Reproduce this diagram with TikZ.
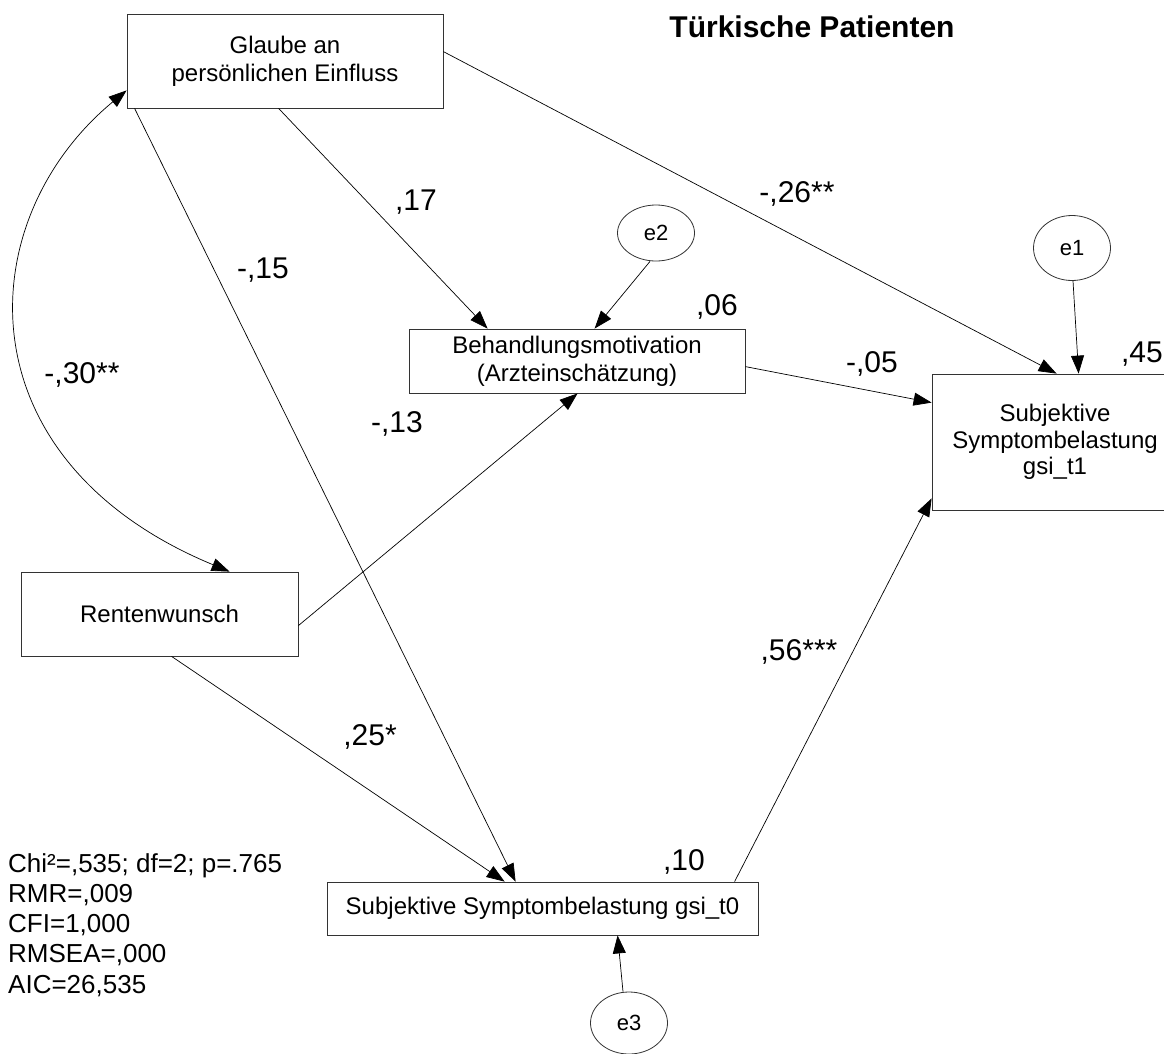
\documentclass[tikz,border=0pt]{standalone}
\usepackage{fontspec}
\setmainfont{Liberation Sans}
\usetikzlibrary{arrows.meta,shapes.geometric,calc}

\begin{document}
\begin{tikzpicture}[x=1bp,y=-1bp,
  box/.style={draw=black!80, line width=0.8bp, inner sep=0pt, align=center,
              font=\fontsize{24bp}{28bp}\selectfont},
  err/.style={draw=black!80, line width=0.8bp, ellipse, inner sep=0pt,
              minimum width=77bp, font=\fontsize{22bp}{26bp}\selectfont},
  coef/.style={inner sep=0pt, anchor=base, font=\fontsize{30bp}{34bp}\selectfont},
  link/.style={line width=0.7bp, -{Triangle[length=18bp,width=13bp]}},
  cov/.style={line width=0.7bp, {Triangle[length=18bp,width=13bp]}-{Triangle[length=18bp,width=13bp]}},
]
\useasboundingbox (0,0) rectangle (1164,1054);

% title
\node[inner sep=0pt, anchor=base, font=\bfseries\fontsize{30bp}{34bp}\selectfont]
  (title) at (812,37) {Türkische Patienten};

% observed variables
\node[box, minimum width=316bp, minimum height=94bp] (glaube) at (285,61)
  {Glaube an\\persönlichen Einfluss};
\node[box, minimum width=336bp, minimum height=64bp] (beh) at (577,361)
  {Behandlungsmotivation\\(Arzteinschätzung)};
\node[box, minimum width=246bp, minimum height=136bp,
      font=\fontsize{24bp}{26.5bp}\selectfont] (t1) at (1055,442)
  {Subjektive\\Symptombelastung\\gsi\_t1};
\node[box, minimum width=277bp, minimum height=84bp] (rente) at (159.5,614)
  {Rentenwunsch};
\node[box, minimum width=431bp, minimum height=53bp] (t0) at (542.5,908.5)
  {Subjektive Symptombelastung gsi\_t0};

% residual terms
\node[err, minimum height=56bp] (e2) at (656,233) {e2};
\node[err, minimum height=65bp] (e1) at (1072,248) {e1};
\node[err, minimum height=62bp] (e3) at (629,1023) {e3};

% regression paths
\draw[link] ($(glaube.south west)+(152,0)$) -- ($(beh.north west)+(79,0)$);
\draw[link] ($(glaube.south west)+(8,0)$) -- ($(t0.north west)+(189,0)$);
\draw[link] ($(glaube.north east)+(0,38)$) -- ($(t1.north west)+(125,0)$);
\draw[link] ($(e2.south)+(-6,0)$) -- ($(beh.north west)+(186,0)$);
\draw[link] ($(e1.south)+(1,0)$) -- ($(t1.north west)+(147,0)$);
\draw[link] ($(beh.north east)+(0,38)$) -- ($(t1.north west)+(0,29)$);
\draw[link] ($(rente.north east)+(0,54)$) -- ($(beh.south west)+(169,0)$);
\draw[link] ($(rente.south west)+(151,0)$) -- ($(t0.north west)+(178,0)$);
\draw[link] ($(e3.north)+(-6,0)$) -- ($(t0.south west)+(291,0)$);
\draw[link] ($(t0.north west)+(408,0)$) -- ($(t1.south west)+(0,-12)$);

% covariance
\draw[cov] ($(glaube.south west)+(0,-18)$) .. controls (-30,220) and (-40,460) ..
  ($(rente.north west)+(209,0)$);

% coefficients
\node[coef] (c17) at (416,210) {,17};
\node[coef] (c15) at (263,278) {-,15};
\node[coef] (c26) at (797,202) {-,26**};
\node[coef] (c06) at (717,315) {,06};
\node[coef] (c05) at (872,372) {-,05};
\node[coef] (c45) at (1142,362) {,45};
\node[coef] (c30) at (82,383) {-,30**};
\node[coef] (c13) at (397,432) {-,13};
\node[coef] (c56) at (799,660) {,56***};
\node[coef] (c25) at (370,745) {,25*};
\node[coef] (c10) at (684,870) {,10};

% fit statistics
\node[inner sep=0pt, anchor=north west, align=left,
      font=\fontsize{26bp}{30.25bp}\selectfont] (fit) at (8,853)
  {Chi²=,535; df=2; p=.765\\RMR=,009\\CFI=1,000\\RMSEA=,000\\AIC=26,535};
\end{tikzpicture}
\end{document}
